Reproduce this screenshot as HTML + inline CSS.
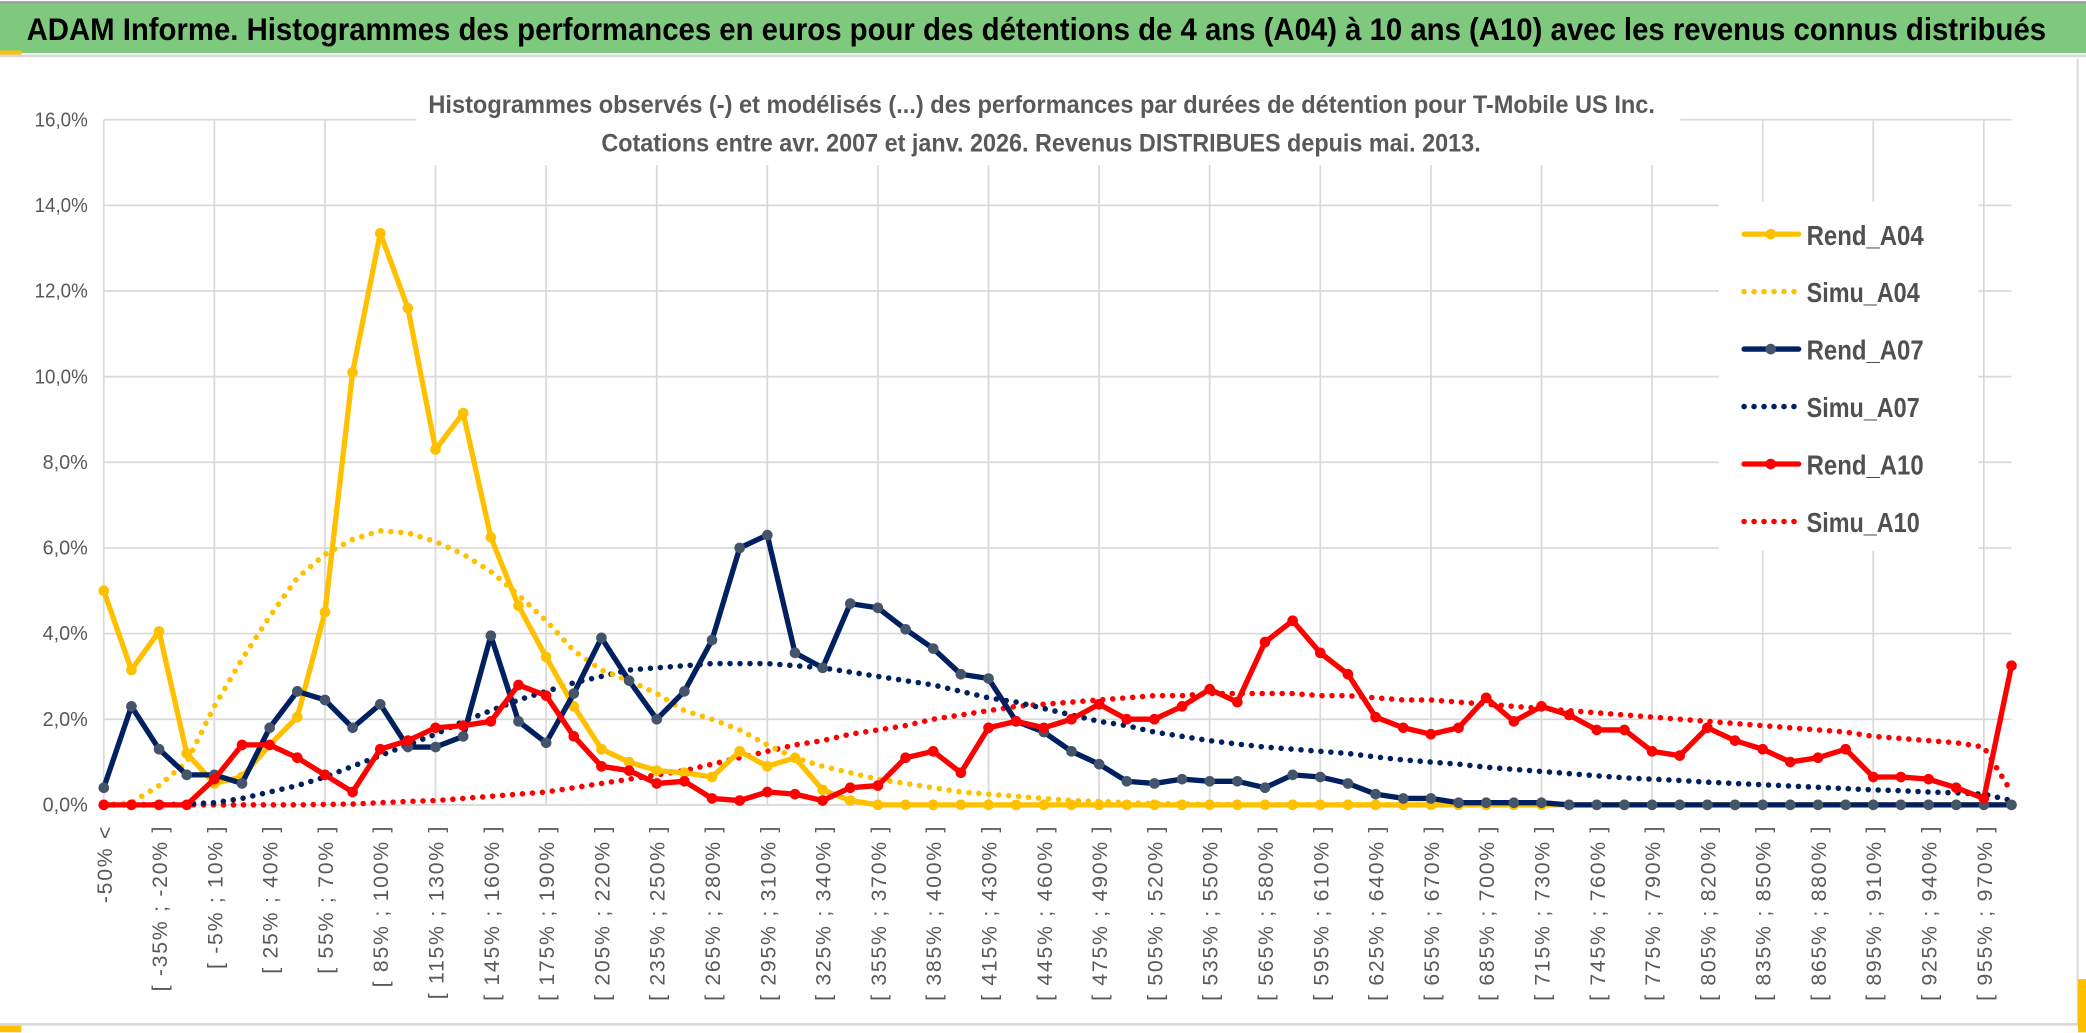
<!DOCTYPE html>
<html><head><meta charset="utf-8"><style>
html,body{margin:0;padding:0;background:#fff;}
svg{display:block;}
</style></head><body>
<svg id="chart" width="2086" height="1033" viewBox="0 0 1568 776.5" preserveAspectRatio="none" xmlns="http://www.w3.org/2000/svg">
<rect x="0" y="0" width="1568" height="776.5" fill="#fff"/>
<rect x="0" y="1" width="1568" height="39" fill="#7FC97F"/>
<rect x="0" y="1" width="1568" height="1.5" fill="#999"/>
<rect x="0" y="41" width="1568" height="2" fill="#d9d9d9"/>
<rect x="0" y="38" width="16" height="3" fill="#FFC000"/>
<text x="20" y="30" font-family="'Liberation Sans Narrow','Liberation Sans',sans-serif" font-size="24" font-weight="bold" fill="#000" textLength="1518" lengthAdjust="spacingAndGlyphs">ADAM Informe. Histogrammes des performances en euros pour des détentions de 4 ans (A04) à 10 ans (A10) avec les revenus connus distribués</text>
<g id="grid"></g>
<rect x="313" y="55" width="950" height="69" fill="#fff"/>
<rect x="1292" y="152" width="195" height="262" fill="#fff"/>
<text x="322" y="85" font-family="'Liberation Sans Narrow','Liberation Sans',sans-serif" font-size="19" font-weight="bold" fill="#595959" textLength="922" lengthAdjust="spacingAndGlyphs">Histogrammes observés (-) et modélisés (...) des performances par durées de détention pour T-Mobile US Inc.</text>
<text x="452" y="114" font-family="'Liberation Sans Narrow','Liberation Sans',sans-serif" font-size="19" font-weight="bold" fill="#595959" textLength="661" lengthAdjust="spacingAndGlyphs">Cotations entre avr. 2007 et janv. 2026. Revenus DISTRIBUES depuis mai. 2013.</text>
<g id="yaxis"></g>
<g id="xaxis"></g>
<g id="series"></g>
<g id="legend"></g>
<rect x="0" y="769" width="1568" height="2" fill="#d9d9d9"/>
<rect x="0" y="771" width="16" height="5" fill="#FFC000"/>
<rect x="1561" y="44" width="1.5" height="727" fill="#d9d9d9"/>
<rect x="1562" y="736" width="6" height="40" fill="#FFC000"/>
</svg>
<script>
const NS="http://www.w3.org/2000/svg";
const yTicks=[0,2,4,6,8,10,12,14,16];
const yTickLabels=["0,0%","2,0%","4,0%","6,0%","8,0%","10,0%","12,0%","14,0%","16,0%"];
const rendA04=[5.0,3.15,4.05,1.2,0.5,0.65,1.4,2.05,4.5,10.1,13.35,11.6,8.3,9.15,6.25,4.65,3.45,2.3,1.3,1.0,0.8,0.75,0.65,1.25,0.9,1.1,0.35,0.1,0,0,0,0,0,0,0,0,0,0,0,0,0,0,0,0,0,0,0,0,0,0,0,0,0,0,0,0,0,0,0,0,0,0,0,0,0,0,0,0,0,0];
const simuA04=[0,0.05,0.45,1.0,2.3,3.4,4.4,5.3,5.85,6.2,6.4,6.35,6.15,5.85,5.45,4.9,4.3,3.6,3.15,2.9,2.6,2.2,2.0,1.75,1.4,1.1,0.9,0.75,0.6,0.5,0.4,0.3,0.25,0.2,0.15,0.1,0.08,0.05,0.03,0.02,0.01,0,0,0,0,0,0,0,0,0,0,0,0,0,0,0,0,0,0,0,0,0,0,0,0,0,0,0,0,0];
const rendA07=[0.4,2.3,1.3,0.7,0.7,0.5,1.8,2.65,2.45,1.8,2.35,1.35,1.35,1.6,3.95,1.95,1.45,2.6,3.9,2.9,2.0,2.65,3.85,6.0,6.3,3.55,3.2,4.7,4.6,4.1,3.65,3.05,2.95,1.95,1.7,1.25,0.95,0.55,0.5,0.6,0.55,0.55,0.4,0.7,0.65,0.5,0.25,0.15,0.15,0.05,0.05,0.05,0.05,0,0,0,0,0,0,0,0,0,0,0,0,0,0,0,0,0];
const simuA07=[0,0,0,0.02,0.05,0.15,0.3,0.45,0.65,0.9,1.15,1.4,1.65,1.95,2.2,2.45,2.65,2.85,3.0,3.15,3.2,3.25,3.3,3.3,3.3,3.25,3.2,3.1,3.0,2.9,2.8,2.65,2.5,2.4,2.25,2.1,1.95,1.85,1.7,1.6,1.5,1.42,1.35,1.3,1.25,1.2,1.12,1.05,1.0,0.95,0.88,0.83,0.78,0.73,0.68,0.63,0.6,0.57,0.53,0.5,0.47,0.44,0.41,0.38,0.35,0.33,0.3,0.28,0.25,0.1];
const rendA10=[0,0,0,0,0.6,1.4,1.4,1.1,0.7,0.3,1.3,1.5,1.8,1.85,1.95,2.8,2.55,1.6,0.9,0.8,0.5,0.55,0.15,0.1,0.3,0.25,0.1,0.4,0.45,1.1,1.25,0.75,1.8,1.95,1.8,2.0,2.35,2.0,2.0,2.3,2.7,2.4,3.8,4.3,3.55,3.05,2.05,1.8,1.65,1.8,2.5,1.95,2.3,2.1,1.75,1.75,1.25,1.15,1.8,1.5,1.3,1.0,1.1,1.3,0.65,0.65,0.6,0.4,0.15,3.25];
const simuA10=[0,0,0,0,0,0,0,0,0.01,0.02,0.05,0.08,0.1,0.15,0.2,0.25,0.3,0.4,0.5,0.6,0.7,0.8,0.95,1.1,1.25,1.4,1.5,1.65,1.75,1.85,2.0,2.1,2.2,2.3,2.35,2.4,2.45,2.5,2.55,2.55,2.6,2.6,2.6,2.6,2.55,2.55,2.5,2.45,2.45,2.4,2.35,2.3,2.25,2.2,2.15,2.1,2.05,2.0,1.95,1.9,1.85,1.8,1.75,1.7,1.6,1.55,1.5,1.45,1.35,0.3];
const categories=rendA10.map((_,i)=>i===0?"-50% <":"[ "+(-50+15*(i-1))+"% ; "+(-35+15*(i-1))+"% ]");

const X0=78,X1=1512,Y0=605,Y16=90;
const N=categories.length;
const xs=i=>X0+(X1-X0)*i/(N-1);
const ys=v=>Y0-(Y0-Y16)*v/16;
function el(t,a,p){const e=document.createElementNS(NS,t);for(const k in a)e.setAttribute(k,a[k]);p.appendChild(e);return e;}

const grid=document.getElementById('grid');
yTicks.forEach((t,k)=>{
  const l=el('line',{x1:X0,x2:X1,y1:ys(t),y2:ys(t),stroke:'#d9d9d9','stroke-width':1.3},grid);
  
  
});
for(let i=0;i<N;i+=4){
  const l=el('line',{x1:xs(i),x2:xs(i),y1:Y16,y2:Y0,stroke:'#d9d9d9','stroke-width':1.3},grid);
  
  
}
const yaxis=document.getElementById('yaxis');
yTicks.forEach((t,k)=>{
  const tx=el('text',{x:66,y:ys(t)+5,'text-anchor':'end','font-family':"'Liberation Sans Narrow','Liberation Sans',sans-serif",'font-size':15,fill:'#595959',textLength:yTickLabels[k].length>4?40:34,lengthAdjust:'spacingAndGlyphs'},yaxis);
  tx.textContent=yTickLabels[k];
  
  
});
const xaxis=document.getElementById('xaxis');
categories.forEach((c,i)=>{
  if(i%2)return;
  const x=xs(i)+6,y=620;
  const tx=el('text',{x:x,y:y,transform:`rotate(-90 ${x} ${y})`,'text-anchor':'end','font-family':"'Liberation Sans',sans-serif",'font-size':16,'letter-spacing':'1.3',fill:'#595959'},xaxis);
  tx.textContent=c;
  
  
});
const series=document.getElementById('series');
function dotted(vals,color,name){
  const p=el('polyline',{points:vals.map((v,i)=>xs(i)+','+ys(v)).join(' '),fill:'none',stroke:color,'stroke-width':4.2,'stroke-linecap':'round','stroke-dasharray':'0 7.5'},series);
  
  
}
function solid(vals,color,mcolor,name){
  const g=el('g',{},series);
  
  
  el('polyline',{points:vals.map((v,i)=>xs(i)+','+ys(v)).join(' '),fill:'none',stroke:color,'stroke-width':4,'stroke-linejoin':'round'},g);
  vals.forEach((v,i)=>{
    const c=el('circle',{cx:xs(i),cy:ys(v),r:4,fill:mcolor},g);
    
    
  });
}
dotted(simuA10,'#FF0000','simu-a10-line');
dotted(simuA07,'#002060','simu-a07-line');
dotted(simuA04,'#FFC000','simu-a04-line');
solid(rendA04,'#FFC000','#FFC000','rend-a04-line');
solid(rendA07,'#002060','#44546A','rend-a07-line');
solid(rendA10,'#FF0000','#FF0000','rend-a10-line');

const legend=document.getElementById('legend');
const legItems=[["Rend_A04","#FFC000","#FFC000",false],["Simu_A04","#FFC000","",true],["Rend_A07","#002060","#44546A",false],["Simu_A07","#002060","",true],["Rend_A10","#FF0000","#FF0000",false],["Simu_A10","#FF0000","",true]];
legItems.forEach((it,k)=>{
  const y=176+k*43.2;
  const g=el('g',{},legend);
  
  
  if(it[3]){
    el('line',{x1:1311,x2:1352,y1:y,y2:y,stroke:it[1],'stroke-width':4.2,'stroke-linecap':'round','stroke-dasharray':'0 7.5'},g);
  }else{
    el('line',{x1:1311,x2:1352,y1:y,y2:y,stroke:it[1],'stroke-width':4,'stroke-linecap':'round'},g);
    el('circle',{cx:1331,cy:y,r:4,fill:it[2]},g);
  }
  const t=el('text',{x:1358,y:y+8,'font-family':"'Liberation Sans Narrow','Liberation Sans',sans-serif",'font-size':21,'font-weight':'bold',fill:'#505050',textLength:it[0].startsWith('Rend')?'88':'85',lengthAdjust:'spacingAndGlyphs'},g);
  t.textContent=it[0];
});
</script>
</body></html>
